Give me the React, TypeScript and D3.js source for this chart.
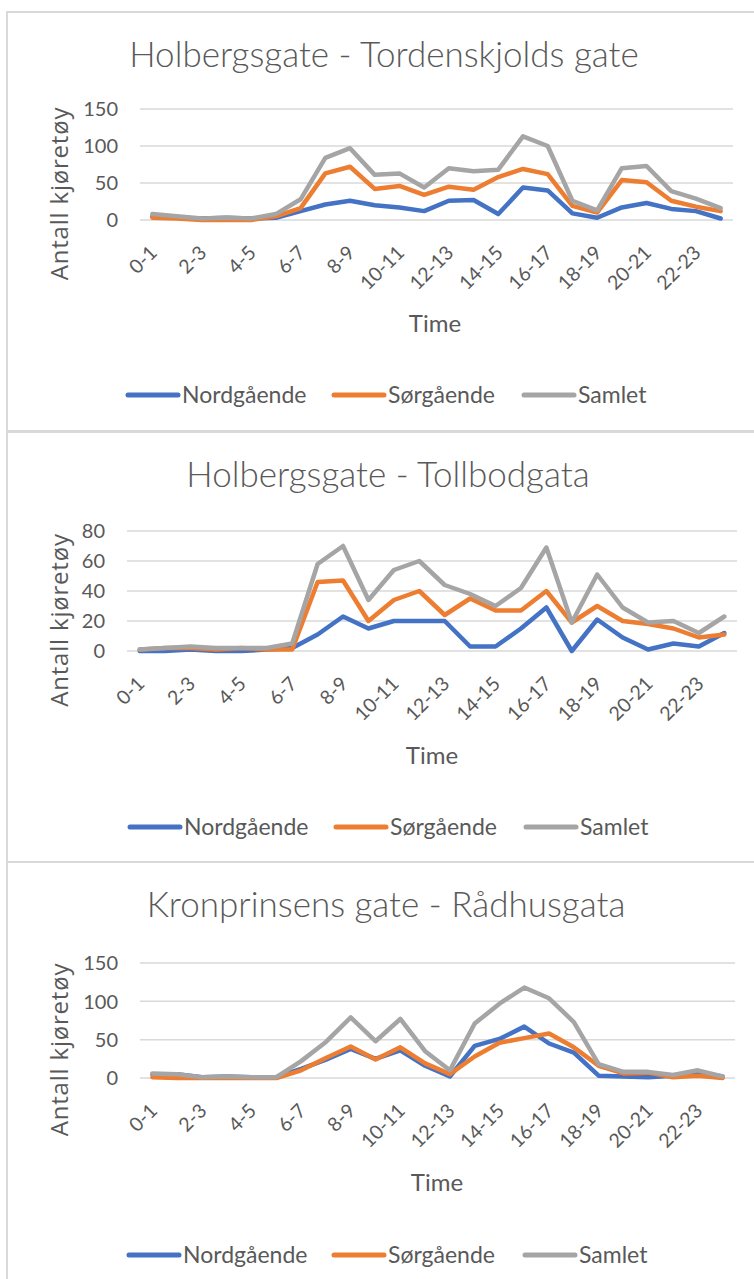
import * as d3 from "d3";

// hour intervals on the x axis (only every other one gets a label)
const hours = [
  "0-1", "1-2", "2-3", "3-4", "4-5", "5-6", "6-7", "7-8", "8-9", "9-10", "10-11", "11-12",
  "12-13", "13-14", "14-15", "15-16", "16-17", "17-18", "18-19", "19-20", "20-21", "21-22", "22-23", "23-24",
];

const seriesNames = ["Nordgående", "Sørgående", "Samlet"];
const seriesColors = ["#4472C4", "#ED7D31", "#A5A5A5"];

// Holbergsgate - Tordenskjolds gate
const tordNord = [5, 3, 2, 3, 2, 3, 12, 21, 26, 20, 17, 12, 26, 27, 8, 44, 40, 9, 3, 17, 23, 15, 12, 2];
const tordSor = [3, 2, 0, 0, 0, 5, 16, 63, 72, 42, 46, 34, 45, 41, 58, 69, 62, 19, 10, 54, 51, 26, 18, 12];
const tordSamlet = [8, 5, 2, 3, 2, 8, 28, 84, 97, 61, 63, 44, 70, 66, 68, 113, 100, 26, 13, 70, 73, 39, 29, 16];

// Holbergsgate - Tollbodgata
const tollNord = [0, 0, 1, 0, 0, 1, 2, 11, 23, 15, 20, 20, 20, 3, 3, 15, 29, 0, 21, 9, 1, 5, 3, 12];
const tollSor = [1, 2, 2, 1, 2, 1, 1, 46, 47, 20, 34, 40, 24, 35, 27, 27, 40, 19, 30, 20, 18, 15, 9, 11];
const tollSamlet = [1, 2, 3, 2, 2, 2, 5, 58, 70, 34, 54, 60, 44, 38, 30, 42, 69, 19, 51, 29, 19, 20, 12, 23];

// Kronprinsens gate - Rådhusgata
const raadNord = [5, 5, 1, 2, 1, 1, 12, 24, 38, 25, 36, 16, 2, 42, 51, 67, 45, 33, 3, 2, 1, 3, 7, 2];
const raadSor = [1, 0, 0, 0, 0, 0, 10, 26, 41, 24, 40, 19, 5, 28, 46, 52, 58, 40, 16, 6, 7, 1, 3, 0];
const raadSamlet = [6, 5, 1, 2, 1, 1, 22, 47, 79, 48, 77, 35, 10, 71, 97, 118, 104, 73, 18, 8, 8, 4, 10, 2];

const textColor = "#595959";
const gridColor = "#D9D9D9";
const font = "Lato, sans-serif";

type PanelProps = {
  top: number;
  bottom: number;
  title: string;
  titleX: number;
  series: number[][];
  yMax: number;
  yStep: number;
  plotLeft: number;
  plotRight: number;
  plotTop: number;
  plotBottom: number;
  timeX: number;
  timeY: number;
  legendY: number;
  legendX: number[];
};

function Panel(p: PanelProps) {
  const x = d3.scalePoint<string>().domain(hours).range([p.plotLeft, p.plotRight]).padding(0.5);
  const y = d3.scaleLinear().domain([0, p.yMax]).range([p.plotBottom, p.plotTop]);
  const ticks = d3.range(0, p.yMax + 1, p.yStep);
  const line = d3
    .line<number>()
    .x((_, i) => x(hours[i])!)
    .y((d) => y(d));

  return (
    <g>
      <rect x={7} y={p.top} width={800} height={p.bottom - p.top} fill="#fff" stroke={gridColor} strokeWidth={2} />
      <text x={p.titleX} y={p.top + 55} textAnchor="middle" fontFamily={font} fontWeight={300} fontSize={35} fill={textColor}>
        {p.title}
      </text>

      {ticks.map((t) => (
        <g key={t}>
          <line x1={p.plotLeft} x2={p.plotRight} y1={y(t)} y2={y(t)} stroke={gridColor} strokeWidth={1.5} />
          <text x={p.plotLeft - 22} y={y(t)} dy="0.36em" textAnchor="end" fontFamily={font} fontSize={20} fill={textColor}>
            {t}
          </text>
        </g>
      ))}

      <text
        transform={`translate(60,${(p.plotTop + p.plotBottom) / 2 + 29}) rotate(-90)`}
        textAnchor="middle"
        dy="0.35em"
        fontFamily="'Open Sans', sans-serif"
        fontSize={24}
        letterSpacing={0.8}
        fill={textColor}
      >
        Antall kjøretøy
      </text>

      {hours
        .filter((_, i) => i % 2 === 0)
        .map((h) => (
          <text
            key={h}
            transform={`translate(${x(h)! + 6},${p.plotBottom + 34}) rotate(-45)`}
            textAnchor="end"
            fontFamily={font}
            fontSize={19.5}
            fill={textColor}
          >
            {h}
          </text>
        ))}

      <text x={p.timeX} y={p.timeY} textAnchor="middle" dy="0.35em" fontFamily={font} fontSize={24} fill={textColor}>
        Time
      </text>

      {p.series.map((s, i) => (
        <path
          key={i}
          d={line(s)!}
          fill="none"
          stroke={seriesColors[i]}
          strokeWidth={4.5}
          strokeLinejoin="round"
          strokeLinecap="round"
        />
      ))}

      {seriesNames.map((name, i) => (
        <g key={name}>
          <line
            x1={p.legendX[i] + 2}
            x2={p.legendX[i] + 52}
            y1={p.legendY}
            y2={p.legendY}
            stroke={seriesColors[i]}
            strokeWidth={5}
            strokeLinecap="round"
          />
          <text x={p.legendX[i] + 56} y={p.legendY} dy="0.35em" fontFamily={font} fontSize={23} fill={textColor}>
            {name}
          </text>
        </g>
      ))}
    </g>
  );
}

export default function App() {
  return (
    <svg width={754} height={1279} style={{ position: "absolute", left: 0, top: 0, background: "#fff" }}>
      <rect width={754} height={1279} fill="#fff" />
      <Panel
        top={12}
        bottom={431}
        title="Holbergsgate - Tordenskjolds gate"
        titleX={384}
        series={[tordNord, tordSor, tordSamlet]}
        yMax={150}
        yStep={50}
        plotLeft={140}
        plotRight={733}
        plotTop={109}
        plotBottom={220}
        timeX={435}
        timeY={324}
        legendY={395}
        legendX={[126, 332, 522]}
      />
      <Panel
        top={432}
        bottom={862}
        title="Holbergsgate - Tollbodgata"
        titleX={388}
        series={[tollNord, tollSor, tollSamlet]}
        yMax={80}
        yStep={20}
        plotLeft={127}
        plotRight={737}
        plotTop={531}
        plotBottom={651}
        timeX={432}
        timeY={756}
        legendY={827}
        legendX={[128, 334, 524]}
      />
      <Panel
        top={862}
        bottom={1300}
        title="Kronprinsens gate - Rådhusgata"
        titleX={386}
        series={[raadNord, raadSor, raadSamlet]}
        yMax={150}
        yStep={50}
        plotLeft={140}
        plotRight={735}
        plotTop={963}
        plotBottom={1078}
        timeX={437}
        timeY={1183}
        legendY={1255}
        legendX={[127, 332, 523]}
      />
    </svg>
  );
}
